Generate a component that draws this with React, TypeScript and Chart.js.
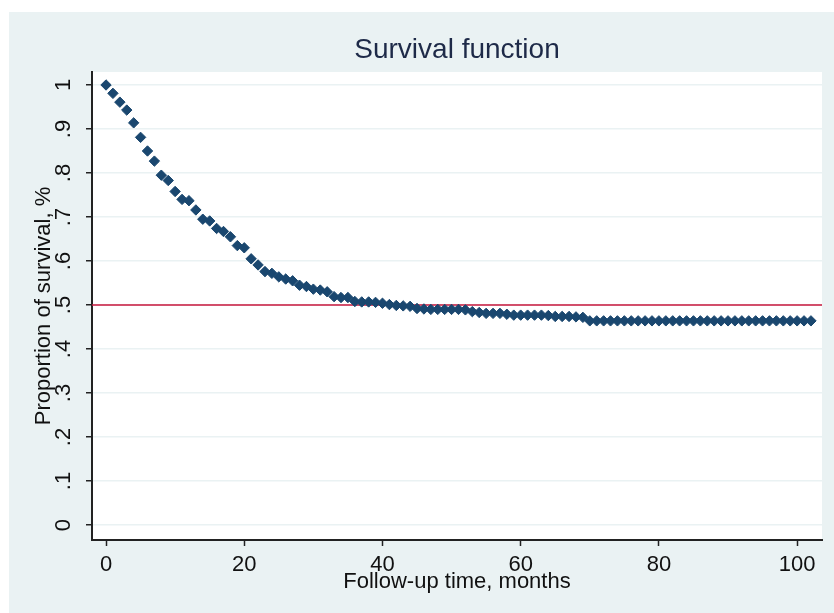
import { useEffect, useRef } from 'react';
import { Chart, registerables } from 'chart.js';

Chart.register(...registerables);

const months = [
  0, 1, 2, 3, 4, 5, 6, 7, 8, 9, 10, 11, 12, 13, 14, 15, 16, 17, 18, 19,
  20, 21, 22, 23, 24, 25, 26, 27, 28, 29, 30, 31, 32, 33, 34, 35, 36, 37, 38, 39,
  40, 41, 42, 43, 44, 45, 46, 47, 48, 49, 50, 51, 52, 53, 54, 55, 56, 57, 58, 59,
  60, 61, 62, 63, 64, 65, 66, 67, 68, 69, 70, 71, 72, 73, 74, 75, 76, 77, 78, 79,
  80, 81, 82, 83, 84, 85, 86, 87, 88, 89, 90, 91, 92, 93, 94, 95, 96, 97, 98, 99,
  100, 101, 102,
];

const survival = [
  1.0, 0.981, 0.961, 0.943, 0.914, 0.881, 0.85, 0.827, 0.795, 0.783,
  0.758, 0.74, 0.737, 0.716, 0.695, 0.691, 0.674, 0.667, 0.655, 0.635,
  0.63, 0.605, 0.591, 0.576, 0.572, 0.564, 0.559, 0.555, 0.545, 0.542,
  0.536, 0.534, 0.53, 0.519, 0.517, 0.517, 0.508, 0.507, 0.507, 0.506,
  0.504, 0.501, 0.499, 0.498, 0.497, 0.492, 0.491, 0.49, 0.49, 0.49,
  0.49, 0.49, 0.489, 0.485, 0.483, 0.481, 0.481, 0.481, 0.479, 0.477,
  0.477, 0.477, 0.477, 0.477, 0.476, 0.474, 0.474, 0.474, 0.473, 0.472,
  0.464, 0.464, 0.464, 0.464, 0.464, 0.464, 0.464, 0.464, 0.464, 0.464,
  0.464, 0.464, 0.464, 0.464, 0.464, 0.464, 0.464, 0.464, 0.464, 0.464,
  0.464, 0.464, 0.464, 0.464, 0.464, 0.464, 0.464, 0.464, 0.464, 0.464,
  0.464, 0.464, 0.464,
];

const xTicks = [0, 20, 40, 60, 80, 100];
const yTicks = [0, 0.1, 0.2, 0.3, 0.4, 0.5, 0.6, 0.7, 0.8, 0.9, 1];
const yTickLabels = ['0', '.1', '.2', '.3', '.4', '.5', '.6', '.7', '.8', '.9', '1'];
const referenceLevel = 0.5;
const xRange = [-2.03, 103.6];
const yRange = [-0.034, 1.0295];

const FONT = "'Liberation Sans', Arial, sans-serif";

const bgPlugin = {
  id: 'stataBackground',
  beforeDraw(chart: any) {
    const { ctx, chartArea: a } = chart;
    ctx.save();
    ctx.fillStyle = '#ffffff';
    ctx.fillRect(0, 0, chart.width, chart.height);
    ctx.fillStyle = '#EAF2F3';
    ctx.fillRect(9, 12, chart.width - 9, chart.height - 12);
    ctx.fillStyle = '#ffffff';
    ctx.fillRect(a.left, a.top, a.right - a.left, a.bottom - a.top);
    ctx.restore();
  },
};

export default function App() {
  const ref = useRef<HTMLCanvasElement | null>(null);

  useEffect(() => {
    if (!ref.current) return;
    const chart = new Chart(ref.current, {
      type: 'scatter',
      data: {
        datasets: [
          {
            type: 'scatter',
            data: months.map((m, i) => ({ x: m, y: survival[i] })),
            pointStyle: 'rectRot',
            pointRadius: 5.2,
            backgroundColor: '#1A476F',
            borderColor: '#1A476F',
            borderWidth: 1,
            order: 1,
          } as any,
          {
            type: 'line',
            data: [
              { x: xRange[0], y: referenceLevel },
              { x: xRange[1], y: referenceLevel },
            ],
            borderColor: '#C8173D',
            borderWidth: 1.5,
            pointRadius: 0,
            order: 2,
          } as any,
        ],
      },
      options: {
        responsive: false,
        animation: false,
        devicePixelRatio: 1,
        layout: { padding: { left: 0, top: 0, right: 12, bottom: 0 } },
        plugins: {
          legend: { display: false },
          tooltip: { enabled: false },
          title: {
            display: true,
            text: 'Survival function',
            fullSize: false,
            color: '#1e2a48',
            font: { family: FONT, size: 28, weight: 'normal' },
            padding: { top: 33, bottom: 5.4 },
          },
        },
        scales: {
          x: {
            type: 'linear',
            min: xRange[0],
            max: xRange[1],
            afterBuildTicks: (s: any) => {
              s.ticks = xTicks.map((v) => ({ value: v }));
            },
            afterFit: (s: any) => {
              s.height = 73;
            },
            ticks: {
              maxRotation: 0,
              minRotation: 0,
              padding: 6,
              color: '#111',
              font: { family: FONT, size: 22 },
              callback: (v: any) => String(v),
            },
            grid: { drawOnChartArea: false, drawTicks: true, tickLength: 6, tickColor: '#222', tickWidth: 1.5 },
            border: { color: '#222', width: 2 },
            title: {
              display: true,
              text: 'Follow-up time, months',
              color: '#111',
              font: { family: FONT, size: 22 },
              padding: { top: 0, bottom: 18 },
            },
          },
          y: {
            type: 'linear',
            min: yRange[0],
            max: yRange[1],
            afterBuildTicks: (s: any) => {
              s.ticks = yTicks.map((v) => ({ value: v }));
            },
            afterFit: (s: any) => {
              s.width = 92;
            },
            ticks: {
              minRotation: 90,
              maxRotation: 90,
              crossAlign: 'center',
              padding: 13,
              color: '#111',
              font: { family: FONT, size: 22 },
              callback: (_v: any, i: number) => yTickLabels[i],
            },
            grid: {
              color: '#EAF2F3',
              lineWidth: 1.5,
              drawTicks: true,
              tickLength: 6,
              tickColor: '#222',
              tickWidth: 1.5,
            },
            border: { color: '#222', width: 2 },
            title: {
              display: true,
              text: 'Proportion of survival, %',
              color: '#111',
              font: { family: FONT, size: 22 },
              padding: { top: 30.3, bottom: 0 },
            },
          },
        },
      } as any,
      plugins: [bgPlugin],
    });
    return () => chart.destroy();
  }, []);

  return (
    <div style={{ position: 'fixed', left: 0, top: 0, width: 834, height: 613 }}>
      <canvas ref={ref} width={834} height={613} style={{ display: 'block' }} />
    </div>
  );
}
